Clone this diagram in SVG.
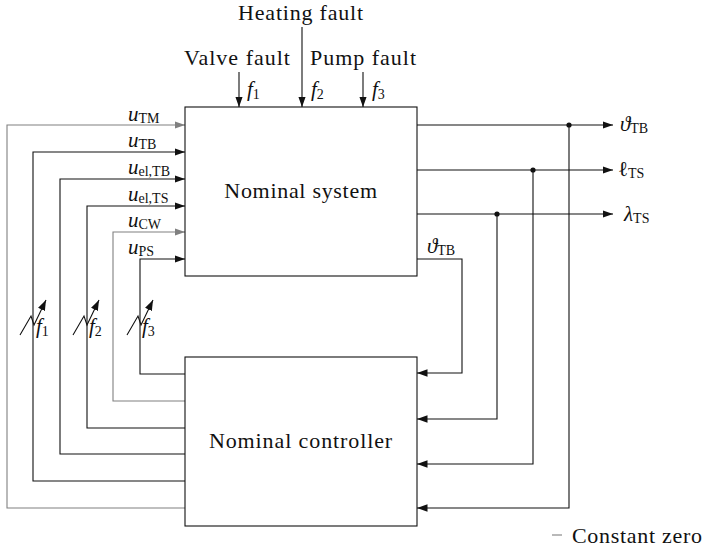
<svg xmlns="http://www.w3.org/2000/svg" width="706" height="549" viewBox="0 0 706 549" font-family="'Liberation Serif', 'DejaVu Serif', serif">
<style>
text{fill:#111}
.t{font-size:22px;font-family:"Liberation Serif",serif}
.m{font-size:21px;font-style:italic}
.s{font-size:14px;font-style:normal}
.box{fill:#fff;stroke:#111;stroke-width:1.1}
.ln{fill:none;stroke:#111;stroke-width:1.1}
.gr{fill:none;stroke:#808080;stroke-width:1.1}
</style>
<defs>
<marker id="ah" markerUnits="userSpaceOnUse" markerWidth="11" markerHeight="8" refX="10.5" refY="3.75" orient="auto"><path d="M0,0 L10.5,3.75 L0,7.5 z" fill="#111"/></marker>
<marker id="ahg" markerUnits="userSpaceOnUse" markerWidth="11" markerHeight="8" refX="10.5" refY="3.75" orient="auto"><path d="M0,0 L10.5,3.75 L0,7.5 z" fill="#808080"/></marker>
<g id="varf"><path class="ln" d="M20,335 L31,316 L34,325 L46,300" marker-end="url(#ah)"/></g>
</defs>

<g id="connectors">
<line class="ln" x1="239" y1="72" x2="239" y2="107" marker-end="url(#ah)"/>
<line class="ln" x1="302" y1="27" x2="302" y2="107" marker-end="url(#ah)"/>
<line class="ln" x1="363" y1="72" x2="363" y2="107" marker-end="url(#ah)"/>
<path class="gr" d="M185,508 H7 V125 H185" marker-end="url(#ahg)"/>
<path class="ln" d="M185,481 H33 V152 H185" marker-end="url(#ah)"/>
<path class="ln" d="M185,454 H60 V179 H185" marker-end="url(#ah)"/>
<path class="ln" d="M185,428 H87 V206 H185" marker-end="url(#ah)"/>
<path class="gr" d="M185,401 H113 V232 H185" marker-end="url(#ahg)"/>
<path class="ln" d="M185,374 H140 V259 H185" marker-end="url(#ah)"/>
<line class="ln" x1="417" y1="125" x2="613" y2="125" marker-end="url(#ah)"/>
<line class="ln" x1="417" y1="170" x2="613" y2="170" marker-end="url(#ah)"/>
<line class="ln" x1="417" y1="214" x2="613" y2="214" marker-end="url(#ah)"/>
<path class="ln" d="M417,259 H462 V373 H417" marker-end="url(#ah)"/>
<path class="ln" d="M497,214 V419 H417" marker-end="url(#ah)"/>
<path class="ln" d="M533,170 V464 H417" marker-end="url(#ah)"/>
<path class="ln" d="M569,125 V508 H417" marker-end="url(#ah)"/>
<circle cx="497" cy="214" r="2.6" fill="#111"/>
<circle cx="533" cy="170" r="2.6" fill="#111"/>
<circle cx="569" cy="125" r="2.6" fill="#111"/>
<use href="#varf"/>
<use href="#varf" x="53"/>
<use href="#varf" x="107"/>
</g>

<g id="system">
<rect class="box" x="185" y="107" width="232" height="169"/>
<text class="t" x="301" y="198" text-anchor="middle" letter-spacing="0.7">Nominal system</text>
</g>

<g id="controller">
<rect class="box" x="185" y="357" width="232" height="169"/>
<text class="t" x="301" y="448" text-anchor="middle" letter-spacing="0.9">Nominal controller</text>
</g>

<g id="fault-labels">
<text class="t" x="301" y="20" text-anchor="middle" letter-spacing="0.8">Heating fault</text>
<text class="t" x="237.5" y="65" text-anchor="middle" letter-spacing="1">Valve fault</text>
<text class="t" x="363.5" y="65" text-anchor="middle" letter-spacing="1">Pump fault</text>
<text class="m" x="247" y="96">f<tspan class="s" dy="3">1</tspan></text>
<text class="m" x="311" y="96">f<tspan class="s" dy="3">2</tspan></text>
<text class="m" x="372" y="96">f<tspan class="s" dy="3">3</tspan></text>
<text class="m" x="36" y="333">f<tspan class="s" dy="3">1</tspan></text>
<text class="m" x="89" y="333">f<tspan class="s" dy="3">2</tspan></text>
<text class="m" x="142" y="333">f<tspan class="s" dy="3">3</tspan></text>
</g>

<g id="input-labels">
<text class="m" x="128" y="121">u<tspan class="s" dy="2">TM</tspan></text>
<text class="m" x="128" y="147">u<tspan class="s" dy="2">TB</tspan></text>
<text class="m" x="128" y="174">u<tspan class="s" dy="2">el,TB</tspan></text>
<text class="m" x="128" y="201">u<tspan class="s" dy="2">el,TS</tspan></text>
<text class="m" x="128" y="227">u<tspan class="s" dy="2">CW</tspan></text>
<text class="m" x="128" y="254">u<tspan class="s" dy="2">PS</tspan></text>
</g>

<g id="output-labels">
<text class="m" x="620" y="131">ϑ<tspan class="s" dy="2">TB</tspan></text>
<text class="m" x="618" y="176" style="font-style:normal">ℓ<tspan class="s" dy="2">TS</tspan></text>
<text class="m" x="624" y="221">λ<tspan class="s" dy="2">TS</tspan></text>
<text class="m" x="427" y="253">ϑ<tspan class="s" dy="2">TB</tspan></text>
</g>

<g id="legend">
<line x1="552" y1="535" x2="562" y2="535" stroke="#808080" stroke-width="1.1"/>
<text class="t" x="572" y="543" letter-spacing="0.7">Constant zero</text>
</g>
</svg>
